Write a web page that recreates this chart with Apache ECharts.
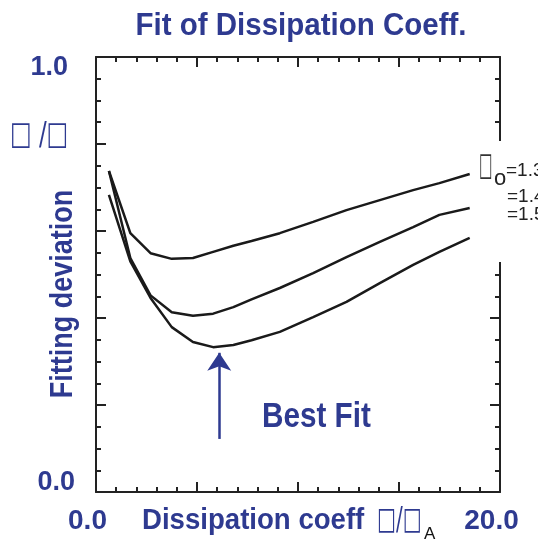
<!DOCTYPE html>
<html>
<head>
<meta charset="utf-8">
<script src="https://cdn.jsdelivr.net/npm/echarts@6/dist/echarts.min.js"></script>
<style>html,body{margin:0;padding:0;background:#fff}#c{width:538px;height:547px}</style>
</head>
<body>
<div id="c"></div>
<script>
// ---- data ----
const xCoeff = [0.64, 1.7, 2.7, 3.75, 4.8, 5.8, 6.8, 7.7, 9.1, 10.75, 12.4, 14.05, 15.7, 17.0, 18.5];
const devTau13 = [0.738, 0.595, 0.549, 0.536, 0.538, 0.552, 0.566, 0.577, 0.595, 0.621, 0.648, 0.671, 0.694, 0.710, 0.731];
const devTau14 = [0.738, 0.538, 0.452, 0.413, 0.405, 0.410, 0.425, 0.443, 0.469, 0.503, 0.540, 0.575, 0.609, 0.637, 0.653];
const devTau15 = [0.683, 0.530, 0.446, 0.379, 0.345, 0.333, 0.338, 0.349, 0.368, 0.402, 0.437, 0.480, 0.522, 0.552, 0.584];
const curveLabels = ['=1.3', '=1.4', '=1.5'];
const xTickLabels = {0: '0.0', 20: '20.0'};
const yTickLabels = {0: '0.0', 1: '1.0'};
const bestFitX = 6.1;
const arrowFrom = 0.122, arrowTo = 0.32;

const BLUE = '#2e3a90';
const SANS = '"Liberation Sans", Arial, sans-serif';

const chart = echarts.init(document.getElementById('c'), null, {renderer: 'canvas'});

function pairs(ys) { return xCoeff.map((x, i) => [x, ys[i]]); }

const axisLineStyle = {lineStyle: {color: '#222', width: 2}};
const tickStyle = {inside: true, length: 10, lineStyle: {color: '#222', width: 2}};
const minorStyle = {show: true, length: 5, lineStyle: {color: '#222', width: 2}};

function xAxisDef(pos, labels) {
  return {
    type: 'value', position: pos, min: 0, max: 20, interval: 5,
    axisLine: Object.assign({onZero: false}, axisLineStyle),
    axisTick: tickStyle,
    minorTick: Object.assign({splitNumber: 5}, minorStyle),
    splitLine: {show: false},
    axisLabel: labels ? {
      show: true, margin: 15, showMinLabel: true, showMaxLabel: true,
      formatter: v => xTickLabels[v] !== undefined ? '{a|' + xTickLabels[v] + '}' : '',
      rich: {a: {fontFamily: SANS, fontWeight: 'bold', fontSize: 28, color: BLUE, padding: [0, 17, 0, 0]}}
    } : {show: false}
  };
}
function yAxisDef(pos, labels) {
  return {
    type: 'value', position: pos, min: 0, max: 1, interval: 0.2,
    axisLine: Object.assign({onZero: false}, axisLineStyle),
    axisTick: tickStyle,
    minorTick: Object.assign({splitNumber: 4}, minorStyle),
    splitLine: {show: false},
    axisLabel: labels ? {
      show: true, margin: 8, showMinLabel: true, showMaxLabel: true,
      formatter: v => v === 1 ? '{a|' + yTickLabels[1] + '}' : (v === 0 ? '{b|' + yTickLabels[0] + '}' : ''),
      rich: {
        a: {fontFamily: SANS, fontWeight: 'bold', fontSize: 27, color: BLUE, padding: [22, 20, 0, 0]},
        b: {fontFamily: SANS, fontWeight: 'bold', fontSize: 27, color: BLUE, padding: [0, 13, 18, 0]}
      }
    } : {show: false}
  };
}

const lineSeries = (name, ys) => ({
  name, type: 'line', data: pairs(ys), showSymbol: false, symbol: 'none',
  lineStyle: {color: '#1a1a1a', width: 2.5}, silent: true, z: 3
});

const s3 = lineSeries('tau 1.5', devTau15);
s3.markLine = {
  silent: true, symbol: ['none', 'arrow'], symbolSize: 18,
  lineStyle: {color: BLUE, width: 2.5, type: 'solid'},
  label: {show: false}, emphasis: {disabled: true},
  data: [[{coord: [bestFitX, arrowFrom]}, {coord: [bestFitX, arrowTo]}]]
};

function txt(x, y, text, font, size, color, opts) {
  return Object.assign({type: 'text', z: 101, x, y,
    style: {text, fontFamily: font, fontSize: size, fontWeight: (opts && opts.bold) ? 'bold' : 'normal', fill: color,
      align: (opts && opts.align) || 'left', verticalAlign: 'middle'}}, opts && opts.t);
}

chart.setOption({
  animation: false,
  backgroundColor: '#fff',
  grid: {left: 96, right: 38, top: 57, bottom: 55, containLabel: false},
  xAxis: [xAxisDef('bottom', true), xAxisDef('top', false)],
  yAxis: [yAxisDef('left', true), yAxisDef('right', false)],
  series: [lineSeries('tau 1.3', devTau13), lineSeries('tau 1.4', devTau14), s3],
  graphic: [
    {type: 'rect', z: 100, shape: {x: 485, y: 141, width: 22, height: 121}, style: {fill: '#fff'}},
    txt(301, 26, 'Fit of Dissipation Coeff.', SANS, 29.5, BLUE, {bold: true, align: 'center', t: {scaleY: 1.06}}),
    txt(10, 136, '□ /□', 'DejaVu Sans', 26, BLUE, {t: {scaleX: 0.88, scaleY: 1.25}}),
    txt(63, 294, 'Fitting deviation', SANS, 27, BLUE, {bold: true, align: 'center', t: {rotation: Math.PI / 2, scaleY: 1.18}}),
    txt(142, 521, 'Dissipation coeff', SANS, 27.6, BLUE, {bold: true, t: {scaleY: 1.08}}),
    txt(377, 521, '□/□', 'DejaVu Sans', 25, BLUE, {t: {scaleX: 0.8, scaleY: 1.25}}),
    txt(424, 534, 'A', SANS, 17, '#111'),
    txt(262, 417, 'Best Fit', SANS, 29.7, BLUE, {bold: true, t: {scaleY: 1.17}}),
    txt(479, 167, '□', 'DejaVu Sans', 22, '#333', {t: {scaleX: 0.65, scaleY: 1.45}}),
    txt(494, 179, 'o', SANS, 22, '#222'),
    txt(506, 171, curveLabels[0], SANS, 19, '#222'),
    txt(507, 197, curveLabels[1], SANS, 19, '#222'),
    txt(507, 215, curveLabels[2], SANS, 19, '#222')
  ]
});
</script>
</body>
</html>
